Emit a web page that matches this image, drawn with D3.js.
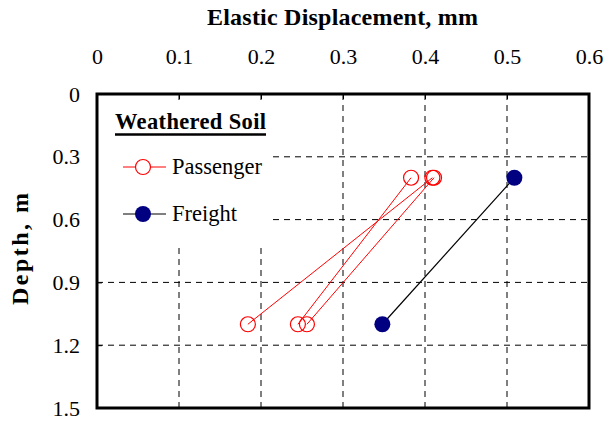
<!DOCTYPE html>
<html>
<head>
<meta charset="utf-8">
<script src="https://cdn.jsdelivr.net/npm/d3@7"></script>
<style>
  body { margin: 0; background: #fff; }
  text { font-family: "Liberation Serif", "Times New Roman", serif; }
</style>
</head>
<body>
<svg id="chart" width="613" height="423"></svg>
<script>
// data
const xTicks = [0, 0.1, 0.2, 0.3, 0.4, 0.5, 0.6]
const yTicks = [0, 0.3, 0.6, 0.9, 1.2, 1.5]

// passenger runs: [displacement, depth] pairs
const passengerA = [[0.409, 0.4], [0.184, 1.1]]
const passengerB = [[0.383, 0.4], [0.245, 1.1]]
const passengerC = [[0.411, 0.4], [0.256, 1.1]]
const freight = [[0.509, 0.4], [0.348, 1.1]]

const margin = { top: 94, right: 24, bottom: 15, left: 97 }
const width = 613, height = 423

const svg = d3.select("#chart")

const x = d3.scaleLinear().domain([0, 0.6]).range([margin.left, width - margin.right])
const y = d3.scaleLinear().domain([0, 1.5]).range([margin.top, height - margin.bottom])

// gridlines
const grid = svg.append("g").attr("stroke", "#000").attr("stroke-dasharray", "6,5").attr("stroke-width", 1)
grid.selectAll("line.v").data(xTicks.slice(1, -1)).enter().append("line")
    .attr("x1", d => x(d)).attr("x2", d => x(d))
    .attr("y1", y(0)).attr("y2", y(1.5))
grid.selectAll("line.h").data(yTicks.slice(1, -1)).enter().append("line")
    .attr("y1", d => y(d)).attr("y2", d => y(d))
    .attr("x1", x(0)).attr("x2", x(0.6))

// top axis labels
const xAxis = d3.axisTop(x).tickValues(xTicks).tickSize(-5).tickPadding(0)
    .tickFormat(d => d === 0 ? "0" : d3.format(".1f")(d))
const gx = svg.append("g").attr("transform", `translate(0,${y(0)})`).call(xAxis)
gx.select(".domain").remove()
gx.selectAll("line").attr("stroke", "#000")
gx.selectAll("text").attr("y", -30).attr("font-size", 22).attr("fill", "#000")
    .style("font-family", "'Liberation Serif', serif")

const yAxis = d3.axisLeft(y).tickValues(yTicks).tickSize(-5).tickPadding(0)
    .tickFormat(d => d === 0 ? "0" : d3.format(".1f")(d))
const gy = svg.append("g").attr("transform", `translate(${x(0)},0)`).call(yAxis)
gy.select(".domain").remove()
gy.selectAll("line").attr("stroke", "#000")
gy.selectAll("text").attr("x", -17).attr("font-size", 22).attr("fill", "#000")
    .style("font-family", "'Liberation Serif', serif")

// legend backdrop hides grid
svg.append("rect")
    .attr("x", x(0) + 1).attr("y", y(0) + 6)
    .attr("width", 171).attr("height", 146)
    .attr("fill", "#fff")

// plot frame
svg.append("rect")
    .attr("x", x(0)).attr("y", y(0))
    .attr("width", x(0.6) - x(0)).attr("height", y(1.5) - y(0))
    .attr("fill", "none").attr("stroke", "#000").attr("stroke-width", 3)

// titles
svg.append("text")
    .attr("x", 207).attr("y", 25)
    .attr("font-size", 24).attr("font-weight", "bold")
    .attr("textLength", 271).attr("lengthAdjust", "spacing")
    .text("Elastic Displacement, mm")
svg.append("text")
    .attr("transform", `translate(28,305) rotate(-90)`)
    .attr("font-size", 24).attr("font-weight", "bold")
    .attr("textLength", 112).attr("lengthAdjust", "spacing")
    .text("Depth, m")

const line = d3.line().x(d => x(d[0])).y(d => y(d[1]))

// passenger series
const passenger = [passengerA, passengerB, passengerC]
passenger.forEach(s => {
    svg.append("path").datum(s).attr("d", line)
        .attr("fill", "none").attr("stroke", "#ff0000").attr("stroke-width", 1)
})
passenger.forEach(s => {
    svg.selectAll(null).data(s).enter().append("circle")
        .attr("cx", d => x(d[0])).attr("cy", d => y(d[1])).attr("r", 7.5)
        .attr("fill", "none").attr("stroke", "#ff0000").attr("stroke-width", 1.2)
})

// freight series
svg.append("path").datum(freight).attr("d", line)
    .attr("fill", "none").attr("stroke", "#000").attr("stroke-width", 1.2)
svg.selectAll(null).data(freight).enter().append("circle")
    .attr("cx", d => x(d[0])).attr("cy", d => y(d[1])).attr("r", 8)
    .attr("fill", "#000080")

// legend
const lg = svg.append("g")
lg.append("text").attr("x", 115).attr("y", 129)
    .attr("font-size", 22.5).attr("font-weight", "bold").attr("textLength", 151)
    .attr("lengthAdjust", "spacing")
    .text("Weathered Soil")
lg.append("line").attr("x1", 115).attr("x2", 266).attr("y1", 134.5).attr("y2", 134.5)
    .attr("stroke", "#000").attr("stroke-width", 2.5)

lg.append("line").attr("x1", 123).attr("x2", 166).attr("y1", 167).attr("y2", 167)
    .attr("stroke", "#ff0000").attr("stroke-width", 1)
lg.append("circle").attr("cx", 143).attr("cy", 167).attr("r", 7.5)
    .attr("fill", "#fff").attr("stroke", "#ff0000").attr("stroke-width", 1.2)
lg.append("text").attr("x", 172).attr("y", 174).attr("font-size", 22.5).text("Passenger")

lg.append("line").attr("x1", 123).attr("x2", 166).attr("y1", 214).attr("y2", 214)
    .attr("stroke", "#000").attr("stroke-width", 1.2)
lg.append("circle").attr("cx", 143).attr("cy", 214).attr("r", 8).attr("fill", "#000080")
lg.append("text").attr("x", 172).attr("y", 221).attr("font-size", 22.5).text("Freight")
</script>
</body>
</html>
